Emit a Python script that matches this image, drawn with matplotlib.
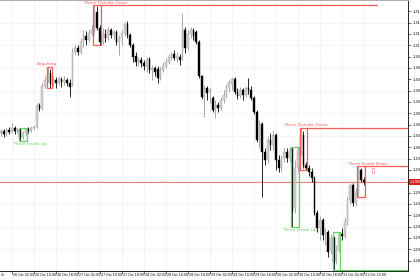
import matplotlib
matplotlib.use("Agg")
import matplotlib.pyplot as plt
from matplotlib.patches import Rectangle

# hourly candles (price)
opens = [1.3017, 1.3019, 1.3016, 1.3020, 1.3018, 1.3022, 1.3019, 1.3021, 1.3013, 1.3017,
         1.3021, 1.3019, 1.3022, 1.3023, 1.3045, 1.3042, 1.3064, 1.3070, 1.3077, 1.3066,
         1.3070, 1.3067, 1.3071, 1.3068, 1.3070, 1.3067, 1.3066, 1.3098, 1.3102, 1.3098,
         1.3108, 1.3114, 1.3110, 1.3117, 1.3120, 1.3138, 1.3122, 1.3108, 1.3116, 1.3112,
         1.3120, 1.3115, 1.3118, 1.3108, 1.3112, 1.3117, 1.3126, 1.3115, 1.3105, 1.3094,
         1.3088, 1.3090, 1.3087, 1.3083, 1.3091, 1.3080, 1.3082, 1.3081, 1.3072, 1.3080,
         1.3084, 1.3088, 1.3093, 1.3096, 1.3092, 1.3093, 1.3092, 1.3120, 1.3102, 1.3116,
         1.3120, 1.3118, 1.3108, 1.3074, 1.3053, 1.3062, 1.3058, 1.3052, 1.3040, 1.3045,
         1.3042, 1.3050, 1.3055, 1.3063, 1.3066, 1.3071, 1.3058, 1.3054, 1.3060, 1.3055,
         1.3062, 1.3060, 1.3052, 1.3038, 1.3010, 1.3026, 1.2998, 1.2990, 1.3010, 1.3005,
         1.3015, 1.2990, 1.2982, 1.2992, 1.2998, 1.2992, 1.3001, 1.2942, 1.2982, 1.3000,
         1.3015, 1.2985, 1.2982, 1.2978, 1.2972, 1.2937, 1.2922, 1.2930, 1.2915, 1.2918,
         1.2900, 1.2912, 1.2890, 1.2900, 1.2916, 1.2914, 1.2928, 1.2950, 1.2965, 1.2947,
         1.2957, 1.2980, 1.2970]
highs = [1.3021, 1.3021, 1.3022, 1.3023, 1.3027, 1.3024, 1.3022, 1.3022, 1.3019, 1.3022,
         1.3023, 1.3024, 1.3025, 1.3047, 1.3047, 1.3067, 1.3074, 1.3083, 1.3081, 1.3074,
         1.3073, 1.3074, 1.3073, 1.3074, 1.3072, 1.3071, 1.3102, 1.3106, 1.3105, 1.3112,
         1.3120, 1.3119, 1.3121, 1.3125, 1.3145, 1.3144, 1.3125, 1.3122, 1.3121, 1.3123,
         1.3122, 1.3120, 1.3120, 1.3115, 1.3120, 1.3128, 1.3129, 1.3117, 1.3107, 1.3098,
         1.3093, 1.3093, 1.3090, 1.3093, 1.3093, 1.3085, 1.3084, 1.3084, 1.3083, 1.3088,
         1.3092, 1.3096, 1.3098, 1.3100, 1.3098, 1.3096, 1.3137, 1.3123, 1.3120, 1.3123,
         1.3122, 1.3120, 1.3110, 1.3075, 1.3065, 1.3064, 1.3063, 1.3054, 1.3050, 1.3048,
         1.3053, 1.3060, 1.3066, 1.3070, 1.3073, 1.3073, 1.3062, 1.3063, 1.3062, 1.3064,
         1.3072, 1.3064, 1.3054, 1.3040, 1.3030, 1.3028, 1.3002, 1.3014, 1.3017, 1.3020,
         1.3017, 1.2995, 1.2995, 1.3003, 1.3002, 1.3003, 1.3003, 1.2990, 1.3003, 1.3022,
         1.3019, 1.2988, 1.2985, 1.2982, 1.2974, 1.2940, 1.2934, 1.2932, 1.2922, 1.2920,
         1.2916, 1.2914, 1.2905, 1.2918, 1.2922, 1.2933, 1.2954, 1.2967, 1.2967, 1.2962,
         1.2984, 1.2982, 1.2973]
lows = [1.3014, 1.3013, 1.3014, 1.3016, 1.3017, 1.3016, 1.3017, 1.3009, 1.3011, 1.3015,
        1.3017, 1.3018, 1.3020, 1.3022, 1.3039, 1.3040, 1.3062, 1.3068, 1.3062, 1.3064,
        1.3062, 1.3065, 1.3063, 1.3065, 1.3064, 1.3053, 1.3064, 1.3095, 1.3095, 1.3096,
        1.3103, 1.3105, 1.3108, 1.3114, 1.3117, 1.3120, 1.3105, 1.3106, 1.3108, 1.3110,
        1.3112, 1.3110, 1.3105, 1.3095, 1.3105, 1.3114, 1.3112, 1.3103, 1.3088, 1.3084,
        1.3084, 1.3083, 1.3080, 1.3078, 1.3077, 1.3070, 1.3074, 1.3067, 1.3070, 1.3078,
        1.3082, 1.3086, 1.3090, 1.3090, 1.3088, 1.3085, 1.3090, 1.3097, 1.3100, 1.3112,
        1.3110, 1.3106, 1.3072, 1.3051, 1.3033, 1.3050, 1.3047, 1.3038, 1.3032, 1.3038,
        1.3040, 1.3047, 1.3052, 1.3058, 1.3060, 1.3056, 1.3051, 1.3052, 1.3050, 1.3053,
        1.3056, 1.3050, 1.3036, 1.3008, 1.3002, 1.2953, 1.2985, 1.2987, 1.3000, 1.3000,
        1.2980, 1.2978, 1.2978, 1.2988, 1.2988, 1.2988, 1.2923, 1.2937, 1.2978, 1.2995,
        1.2982, 1.2980, 1.2974, 1.2968, 1.2935, 1.2918, 1.2910, 1.2910, 1.2905, 1.2893,
        1.2896, 1.2880, 1.2886, 1.2898, 1.2910, 1.2912, 1.2925, 1.2946, 1.2944, 1.2944,
        1.2953, 1.2968, 1.2965]
closes = [1.3019, 1.3016, 1.3020, 1.3018, 1.3022, 1.3019, 1.3020, 1.3012, 1.3017, 1.3021,
          1.3019, 1.3022, 1.3023, 1.3044, 1.3041, 1.3064, 1.3070, 1.3076, 1.3066, 1.3070,
          1.3067, 1.3071, 1.3068, 1.3070, 1.3067, 1.3063, 1.3098, 1.3102, 1.3098, 1.3108,
          1.3114, 1.3110, 1.3117, 1.3120, 1.3136, 1.3122, 1.3108, 1.3116, 1.3112, 1.3120,
          1.3115, 1.3118, 1.3108, 1.3112, 1.3117, 1.3126, 1.3115, 1.3105, 1.3093, 1.3088,
          1.3090, 1.3087, 1.3084, 1.3090, 1.3080, 1.3082, 1.3078, 1.3072, 1.3080, 1.3084,
          1.3088, 1.3093, 1.3096, 1.3092, 1.3094, 1.3090, 1.3122, 1.3102, 1.3116, 1.3120,
          1.3114, 1.3108, 1.3074, 1.3053, 1.3062, 1.3057, 1.3060, 1.3040, 1.3045, 1.3042,
          1.3050, 1.3055, 1.3063, 1.3068, 1.3071, 1.3058, 1.3054, 1.3060, 1.3055, 1.3062,
          1.3060, 1.3052, 1.3038, 1.3010, 1.3026, 1.2998, 1.2990, 1.3010, 1.3005, 1.3015,
          1.2990, 1.2982, 1.2992, 1.2998, 1.2992, 1.3000, 1.2938, 1.2982, 1.3000, 1.3015,
          1.2985, 1.2982, 1.2978, 1.2972, 1.2937, 1.2922, 1.2930, 1.2915, 1.2918, 1.2898,
          1.2912, 1.2888, 1.2900, 1.2916, 1.2914, 1.2928, 1.2950, 1.2965, 1.2947, 1.2958,
          1.2980, 1.2970, 1.2968]

time_labels = ["26 Oct 02:00", "26 Oct 10:00", "26 Oct 18:00", "27 Oct 02:00", "27 Oct 10:00",
               "27 Oct 18:00", "28 Oct 02:00", "28 Oct 10:00", "28 Oct 18:00", "29 Oct 02:00",
               "29 Oct 10:00", "29 Oct 18:00", "30 Oct 02:00", "30 Oct 10:00", "30 Oct 18:00",
               "31 Oct 02:00", "31 Oct 10:00"]
label_bars = [4, 12, 20, 28, 36, 44, 52, 60, 68, 76, 84, 92, 100, 108, 116, 124, 132]

# detected patterns: name, first bar, last bar, bullish?
pattern_names = ["Three Inside Up", "Engulfing", "Three Outside Down", "Three Inside Up",
                 "Three Outside Down", "Three Inside Up", "Three Inside Down"]
pattern_start = [7, 17, 34, 106, 109, 121, 130]
pattern_end = [9, 18, 36, 108, 111, 123, 132]
pattern_bull = [True, False, False, True, False, True, False]

RED = "#ff5a5a"
GREEN = "#5ad65a"
BULL_FACE = "#d4d4d4"
BULL_EDGE = "#9a9a9a"

n = len(closes)
xs = list(range(n))

fig = plt.figure(figsize=(4.2, 2.8), dpi=100)
ax = fig.add_axes([0, 9 / 280, 408 / 420, 271 / 280])
ax.set_xlim(-0.36, 148.0)
ax.set_ylim(1.2879, 1.3150)

# grid
yticks = [1.3150 - 0.001133 * m for m in range(24)]
for m, yt in enumerate(yticks):
    if m % 2 == 0:
        ax.axhline(yt, color="#dcdcdc", lw=0.5, ls=(0, (1, 1.5)), zorder=0)
for b in label_bars:
    ax.axvline(b, color="#dcdcdc", lw=0.5, ls=(0, (1, 1.5)), zorder=0)

# candles
for i in xs:
    up = closes[i] >= opens[i]
    wick = BULL_EDGE if up else "black"
    ax.vlines(i, lows[i], highs[i], colors=wick, lw=0.6, zorder=2)
    lo = min(opens[i], closes[i])
    h = max(abs(closes[i] - opens[i]), 0.00006)
    ax.bar(i, h, bottom=lo, width=0.62,
           color=BULL_FACE if up else "black",
           edgecolor=BULL_EDGE if up else "black", lw=0.3, zorder=3)

# current price line
last = closes[-1]
ax.axhline(last, color="#ee8080", lw=0.8, zorder=1)

# pattern boxes, labels, level lines
label_dx = [3.5, -0.3, 4.2, 2.7, 1.9, 3.0, 3.5]
label_below = [True, False, False, True, False, True, False]
show_label = [True, True, True, True, True, False, True]
line_to = [None, None, 136.7, None, 148.0, 148.0, 148.0]

for k in range(len(pattern_names)):
    s, e = pattern_start[k], pattern_end[k]
    top = max(highs[s:e + 1])
    bot = min(lows[s:e + 1])
    col = GREEN if pattern_bull[k] else RED
    ax.add_patch(Rectangle((s - 0.45, bot), e - s + 0.9, top - bot, fill=False,
                           edgecolor=col, lw=0.9, zorder=4))
    if line_to[k] is not None:
        lvl = bot if pattern_bull[k] else top
        ax.plot([e + 0.45, line_to[k]], [lvl, lvl], color=col, lw=0.9, zorder=4)
    if show_label[k]:
        ty = bot - 0.00025 if label_below[k] else top + 0.00025
        ax.text(s + label_dx[k], ty, pattern_names[k], color=col,
                fontsize=3.1, ha="center", va="center", zorder=5)

ax.text(135.2, 1.2978, "\u21e9", color=RED, fontsize=6, ha="center", va="center", zorder=5)

# axes styling
ax.spines["left"].set_visible(False)
ax.spines["top"].set_color("#b0b0b0")
ax.spines["top"].set_linewidth(0.8)
ax.spines["right"].set_color("black")
ax.spines["right"].set_linewidth(0.6)
ax.spines["bottom"].set_color("black")
ax.spines["bottom"].set_linewidth(0.6)

# price scale; the label hidden behind the price tag is dropped
shown = [v for v in yticks[1:] if abs(v - closes[-1]) > 0.0006]
ax.yaxis.tick_right()
ax.set_yticks(shown)
ax.set_yticklabels(["%.4f" % v for v in shown])
ax.tick_params(axis="y", labelsize=2.6, length=2, width=0.4, pad=1)
ax.set_xticks(label_bars)
ax.set_xticklabels([])
ax.tick_params(axis="x", length=2, width=0.4)
for b, lab in zip(label_bars, time_labels):
    ax.text(b + 0.2, -0.008, lab, transform=ax.get_xaxis_transform(), fontsize=2.3,
            ha="left", va="top", clip_on=False)
ax.text(0.0, -0.008, "25", transform=ax.get_xaxis_transform(), fontsize=2.3,
        ha="left", va="top", clip_on=False)

# current price tag on the price scale
ax.text(148.7, last, "%.4f" % last, color="white", fontsize=2.6, ha="left", va="center",
        clip_on=False, zorder=6,
        bbox=dict(boxstyle="square,pad=0.2", fc="#d02020", ec="none"))

fig.savefig("out.png", dpi=100)
